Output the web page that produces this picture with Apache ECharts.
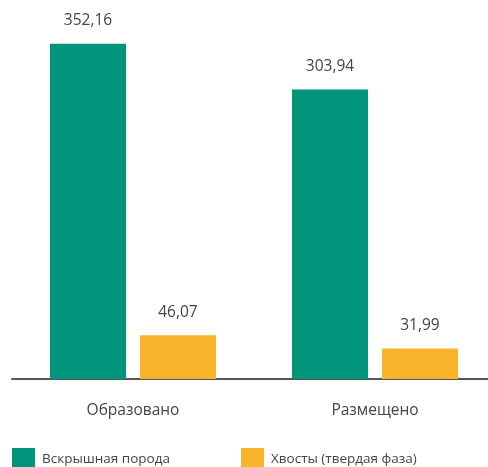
<!DOCTYPE html>
<html><head><meta charset="utf-8">
<script src="https://cdn.jsdelivr.net/npm/echarts@6/dist/echarts.min.js"></script>
<style>html,body{margin:0;padding:0;background:#fff}#c{width:488px;height:467px}</style>
</head><body><div id="c"></div>
<script>
const categories = ['Образовано', 'Размещено'];
const seriesNames = ['Вскрышная порода', 'Хвосты (твердая фаза)'];
const overburden = [352.16, 303.94];
const tailings = [46.07, 31.99];
const colors = ['#00947A', '#F8B42A'];
const font = '"Open Sans", sans-serif';
const fmt = p => p.value.toFixed(2).replace('.', ',');
const chart = echarts.init(document.getElementById('c'));
chart.setOption({
  animation: false,
  textStyle: { fontFamily: font },
  grid: { left: 12, width: 484, top: 0, bottom: 88, outerBoundsMode: 'none', containLabel: false },
  legend: [
    { data: [seriesNames[0]], left: 12, top: 448, padding: 0, itemWidth: 23, itemHeight: 23, icon: 'rect',
      textStyle: { fontFamily: font, fontSize: 13.5, color: '#444', padding: [0, 0, 0, 2] } },
    { data: [seriesNames[1]], left: 241, top: 448, padding: 0, itemWidth: 23, itemHeight: 23, icon: 'rect',
      textStyle: { fontFamily: font, fontSize: 13.5, color: '#444', padding: [0, 0, 0, 2] } }
  ],
  xAxis: {
    type: 'category', data: categories,
    axisLine: { lineStyle: { color: '#555', width: 2 } },
    axisTick: { show: false },
    axisLabel: { fontFamily: font, fontSize: 15.5, color: '#444', margin: 24 }
  },
  yAxis: { type: 'value', min: 0, max: 398, show: false, splitLine: { show: false } },
  series: [
    { name: seriesNames[0], type: 'bar', data: overburden, barWidth: 76, barGap: '18.4%',
      itemStyle: { color: colors[0] },
      label: { show: true, position: 'top', distance: 15, formatter: fmt, fontFamily: font, fontSize: 15.5, color: '#444' } },
    { name: seriesNames[1], type: 'bar', data: tailings, barWidth: 76,
      itemStyle: { color: colors[1] },
      label: { show: true, position: 'top', distance: 15, formatter: fmt, fontFamily: font, fontSize: 15.5, color: '#444' } }
  ]
});
</script></body></html>
